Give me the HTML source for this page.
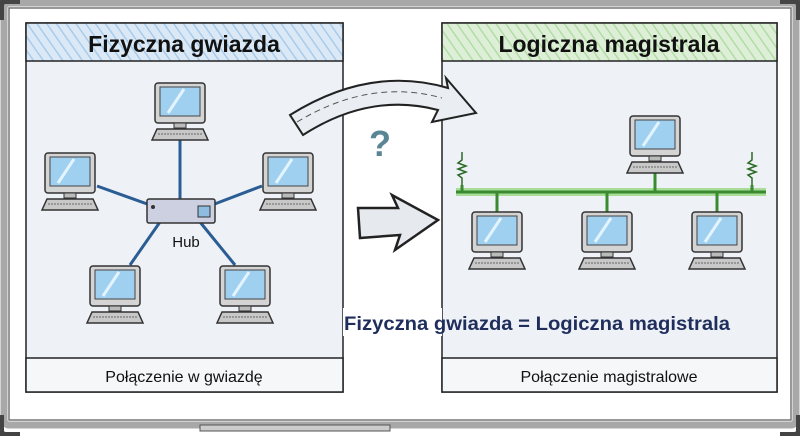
<!DOCTYPE html>
<html><head><meta charset="utf-8"><style>
html,body{margin:0;padding:0;background:#fff}
svg{display:block}
text{font-family:"Liberation Sans",sans-serif}
</style></head><body>
<svg width="800" height="436" viewBox="0 0 800 436" xmlns="http://www.w3.org/2000/svg">
<defs>
<pattern id="hb" width="8" height="8" patternUnits="userSpaceOnUse" patternTransform="rotate(-35)">
<rect width="8" height="8" fill="#dbe9f6"/><line x1="0" y1="0" x2="0" y2="8" stroke="#a9cbea" stroke-width="3"/></pattern>
<pattern id="hg" width="8" height="8" patternUnits="userSpaceOnUse" patternTransform="rotate(-35)">
<rect width="8" height="8" fill="#ddefd7"/><line x1="0" y1="0" x2="0" y2="8" stroke="#b3dca6" stroke-width="3"/></pattern>
<g id="pc">
<rect x="-25" y="-32" width="50" height="40" rx="3" fill="#d4d4d4" stroke="#333" stroke-width="1.5"/>
<rect x="-20" y="-28" width="40" height="29" fill="#9fd0f0" stroke="#444"/>
<line x1="-12" y1="-2" x2="4" y2="-26" stroke="#e4f4ff" stroke-width="3"/>
<rect x="-6" y="8" width="12" height="5" fill="#bbb" stroke="#333"/>
<path d="M-23 14 H23 L28 25 H-28 Z" fill="#c8c8c8" stroke="#333" stroke-width="1.5"/>
<line x1="-22" y1="19" x2="22" y2="19" stroke="#666" stroke-dasharray="2 1"/>
</g>
</defs>
<rect x="0" y="0" width="800" height="436" fill="#fff"/>
<rect x="4" y="3" width="792" height="422" rx="5" fill="#fdfdfd" stroke="#a8a8a8" stroke-width="7"/>
<rect x="9" y="8" width="782" height="412" fill="#fff" stroke="#777" stroke-width="1.5"/>
<path d="M1 20 V6 Q1 1 6 1 H20" fill="none" stroke="#444" stroke-width="6"/>
<path d="M780 1 H794 Q799 1 799 6 V20" fill="none" stroke="#444" stroke-width="6"/>
<path d="M1 415 V430 Q1 435 6 435 H20" fill="none" stroke="#444" stroke-width="6"/>
<path d="M780 435 H794 Q799 435 799 430 V415" fill="none" stroke="#444" stroke-width="6"/>
<rect x="200" y="425" width="190" height="6" fill="#ccc" stroke="#555"/>
<!-- left panel -->
<rect x="26" y="23" width="317" height="369" fill="#eef2f6" stroke="#222" stroke-width="1.5"/>
<rect x="26" y="23" width="317" height="38" fill="url(#hb)" stroke="#222" stroke-width="1.5"/>
<rect x="26" y="358" width="317" height="34" fill="#f5f7f9" stroke="#222" stroke-width="1.5"/>
<text x="184" y="52" text-anchor="middle" font-size="23" font-weight="bold" fill="#111">Fizyczna gwiazda</text>
<text x="184" y="382" text-anchor="middle" font-size="16" fill="#111">Połączenie w gwiazdę</text>
<g stroke="#2b5d95" stroke-width="3">
<line x1="180" y1="140" x2="180" y2="200"/>
<line x1="97" y1="186" x2="150" y2="205"/>
<line x1="262" y1="186" x2="212" y2="205"/>
<line x1="160" y1="222" x2="130" y2="265"/>
<line x1="200" y1="222" x2="235" y2="265"/>
</g>
<rect x="147" y="199" width="68" height="24" rx="2" fill="#cdd0e0" stroke="#333" stroke-width="1.5"/>
<rect x="198" y="206" width="12" height="11" fill="#8fbde0" stroke="#333"/>
<circle cx="153" cy="207" r="2" fill="#333"/>
<text x="186" y="247" text-anchor="middle" font-size="15" fill="#111">Hub</text>
<use href="#pc" x="180" y="115"/>
<use href="#pc" x="70" y="185"/>
<use href="#pc" x="288" y="185"/>
<use href="#pc" x="115" y="298"/>
<use href="#pc" x="245" y="298"/>
<!-- right panel -->
<rect x="442" y="23" width="335" height="369" fill="#eef2f6" stroke="#222" stroke-width="1.5"/>
<rect x="442" y="23" width="335" height="38" fill="url(#hg)" stroke="#222" stroke-width="1.5"/>
<rect x="442" y="358" width="335" height="34" fill="#f5f7f9" stroke="#222" stroke-width="1.5"/>
<text x="609" y="52" text-anchor="middle" font-size="23" font-weight="bold" fill="#111">Logiczna magistrala</text>
<text x="609" y="382" text-anchor="middle" font-size="16" fill="#111">Połączenie magistralowe</text>
<line x1="456" y1="192" x2="766" y2="192" stroke="#a8dc98" stroke-width="8"/>
<line x1="456" y1="192" x2="766" y2="192" stroke="#3a8a30" stroke-width="3"/>
<g stroke="#3a8a30" stroke-width="3">
<line x1="655" y1="170" x2="655" y2="192"/>
<line x1="497" y1="192" x2="497" y2="215"/>
<line x1="607" y1="192" x2="607" y2="215"/>
<line x1="717" y1="192" x2="717" y2="215"/>
<line x1="462" y1="185" x2="462" y2="192"/>
<line x1="752" y1="185" x2="752" y2="192"/>
</g>
<g fill="none" stroke="#2a6a25" stroke-width="1.5">
<path d="M462 152 V160 l-4 3 l8 3 l-8 3 l8 3 l-8 3 l4 3 V185"/>
<path d="M752 152 V160 l-4 3 l8 3 l-8 3 l8 3 l-8 3 l4 3 V185"/>
</g>
<use href="#pc" x="655" y="148"/>
<use href="#pc" x="497" y="244"/>
<use href="#pc" x="607" y="244"/>
<use href="#pc" x="717" y="244"/>
<rect x="343" y="308" width="99" height="28" fill="#fff"/>
<text x="344" y="330" font-size="19" font-weight="bold" fill="#1f2e5c" textLength="386" lengthAdjust="spacingAndGlyphs">Fizyczna gwiazda = Logiczna magistrala</text>
<!-- curved arrow -->
<path d="M290 115 Q370 65 448 88 L446 78 L476 113 L432 122 L438 110 Q370 92 303 135 Z" fill="#eaeef2" stroke="#222" stroke-width="2"/>
<path d="M297 122 Q370 78 442 98" fill="none" stroke="#555" stroke-dasharray="6 4"/>
<text x="380" y="156" text-anchor="middle" font-size="36" font-weight="bold" fill="#5a8595">?</text>
<!-- right arrow -->
<path d="M358 208 L398 208 L392 195 L438 220 L395 250 L400 235 L360 238 Z" fill="#e6e9ee" stroke="#222" stroke-width="2.5"/>
</svg>
</body></html>
